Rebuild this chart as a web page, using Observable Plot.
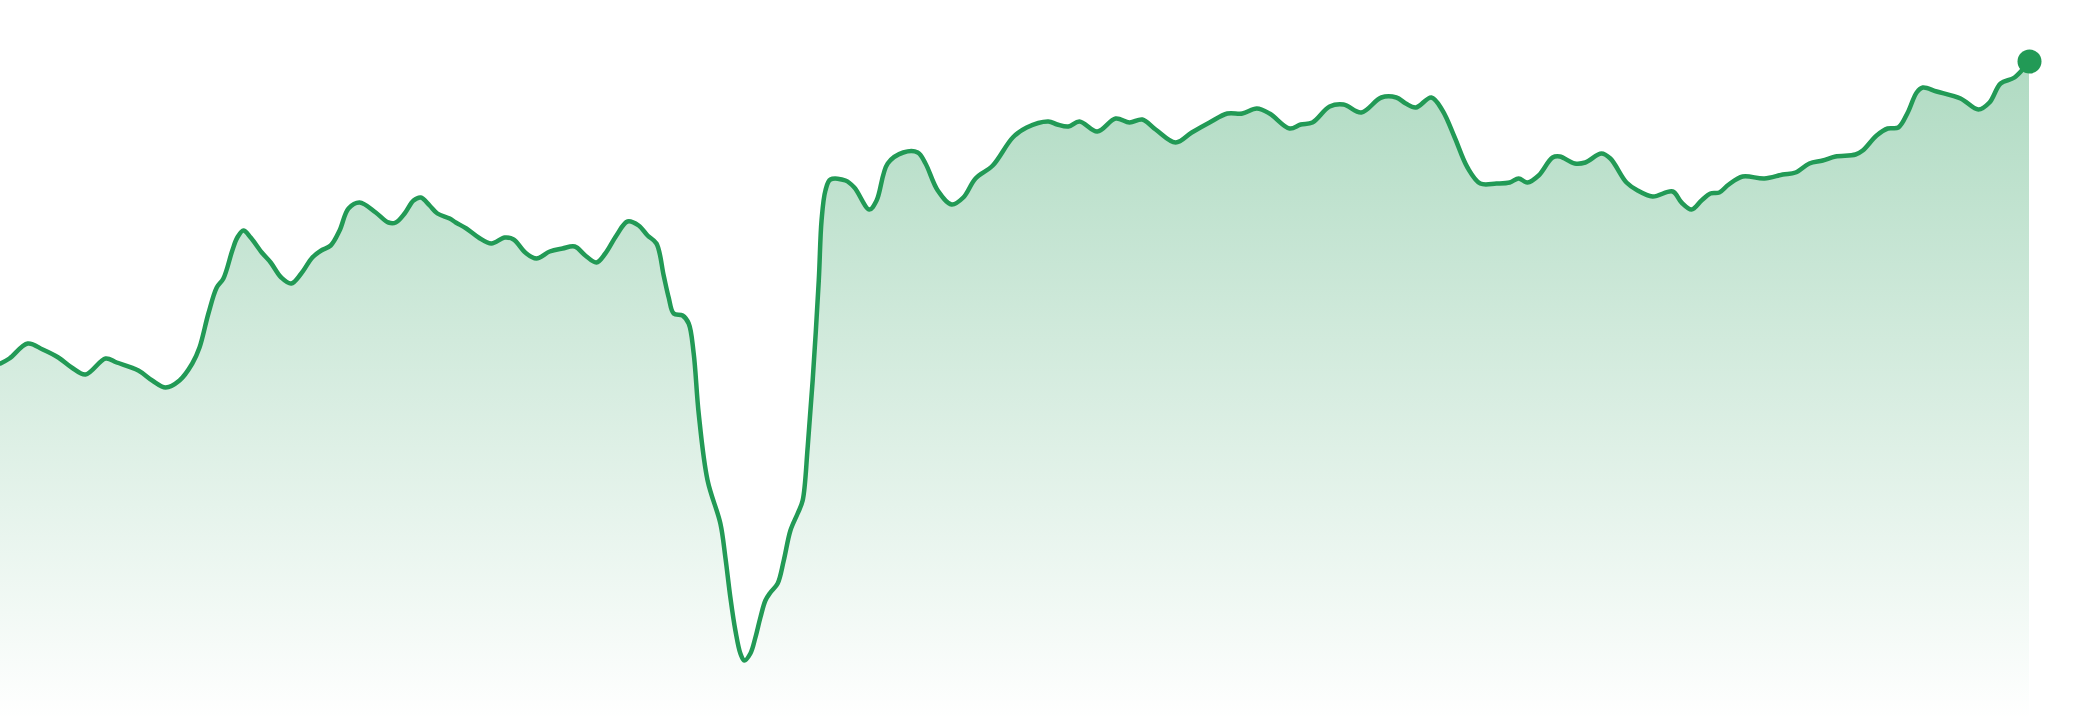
<!DOCTYPE html>
<html>
<head>
<meta charset="utf-8">
<script src="https://cdn.jsdelivr.net/npm/d3@7"></script>
<script src="https://cdn.jsdelivr.net/npm/@observablehq/plot@0.6"></script>
<style>
  html, body { margin: 0; padding: 0; background: #fff; }
  #chart svg { display: block; }
</style>
</head>
<body>
<div id="chart"></div>
<script>
// Day offsets (x)
const days = [0,1.6,4.9,7.6,10.4,12.8,15.3,18.9,20.9,24.8,27.3,29.7,32.2,34.5,35.8,37.4,38.9,40.1,41.7,42.6,43.7,45.0,47.0,48.6,50.5,52.3,54.1,56.1,57.7,59.4,61.0,62.6,64.6,67.5,69.8,71.1,72.7,74.3,75.6,77.2,78.6,80.8,81.9,83.8,86.0,88.3,90.7,92.3,94.4,96.4,98.8,101.1,103.3,105.2,107.2,108.8,110.8,112.8,114.8,116.4,118.0,
119.3,120.2,121.1,122.7,123.8,124.7,125.6,127.2,129.5,130.4,131.3,132.2,133.1,133.8,134.9,135.8,136.7,137.6,138.5,139.8,140.9,142.1,143.4,144.3,145.2,146.1,147.2,147.7,148.4,149.3,152.0,153.6,156.3,157.6,159.6,162.4,165.0,166.4,168.6,171.1,173.2,175.4,178.5,182.1,184.6,188.5,190.1,192.1,194.1,197.3,200.6,203.1,205.4,207.8,211.4,214.3,217.5,220.7,223.4,226.0,228.3,231.9,233.9,236.0,239.1,241.6,244.8,248.4,251.1,252.8,254.6,257.4,259.4,261.6,263.9,266.2,269.1,271.5,273.1,274.7,276.7,279.2,280.5,283.2,285.1,288.0,289.6,292.5,294.5,297.2,300.8,302.4,304.2,306.0,307.6,309.2,310.9,313.4,317.3,320.6,322.9,325.4,327.8,330.1,333.7,335.0,337.5,339.5,341.4,343.1,344.7,345.8,348.3,352.6,355.8,357.8,359.8,362.3,365.0];
// Values
const values = [35.7,36.2,37.7,37.1,36.3,35.3,34.6,36.2,35.8,35.0,34.0,33.3,34.0,35.7,37.3,40.7,43.3,44.2,47.0,48.3,49.0,48.3,46.8,45.8,44.3,43.7,44.7,46.3,47.0,47.5,49.0,51.2,51.8,50.8,49.8,49.8,50.7,52.0,52.3,51.5,50.7,50.2,49.8,49.2,48.3,47.7,48.3,48.1,46.8,46.2,46.9,47.2,47.4,46.5,45.8,46.7,48.5,49.9,49.5,48.5,47.7,
44.5,42.3,40.7,40.5,39.7,36.7,30.7,24.0,19.7,16.3,12.3,9.0,6.7,6.0,6.7,8.3,10.3,12.0,12.8,13.7,16.0,19.0,20.7,22.0,27.3,34.0,44.0,50.0,53.0,54.1,54.0,53.3,51.1,52.0,55.7,56.8,56.8,55.7,53.0,51.6,52.3,54.2,55.5,58.3,59.3,59.9,59.6,59.4,59.9,58.9,60.2,59.8,60.1,59.1,57.8,58.8,59.8,60.7,60.7,61.2,60.7,59.2,59.6,59.8,61.4,61.6,60.8,62.3,62.3,61.7,61.3,62.3,61.0,58.3,55.3,53.7,53.7,53.8,54.2,53.8,54.5,56.3,56.4,55.7,55.8,56.7,56.2,53.8,53.0,52.4,52.9,51.8,51.1,52.0,52.7,52.8,53.6,54.4,54.2,54.6,54.8,55.7,56.0,56.4,56.6,57.0,58.5,59.2,59.3,60.8,62.8,63.3,62.9,62.2,61.1,61.8,63.7,64.3,65.9];

const lineColor = "#229a56";
const data = days.map((d, i) => ({day: d, value: values[i]}));
const last = data[data.length - 1];

const plot = Plot.plot({
  width: 2080,
  height: 720,
  marginTop: 0,
  marginBottom: 0,
  marginLeft: 0,
  marginRight: 51,
  x: {domain: [0, 365], axis: null},
  y: {domain: [0, 72], axis: null},
  marks: [
    Plot.areaY(data, {x: "day", y: "value", fill: "url(#areaGrad)", curve: "catmull-rom"}),
    Plot.lineY(data, {x: "day", y: "value", stroke: lineColor, strokeWidth: 4.5, curve: "catmull-rom"}),
    Plot.dot([last], {x: "day", y: "value", r: 12, fill: lineColor})
  ]
});

const svg = d3.select(plot);
const defs = svg.insert("defs", ":first-child");
const grad = defs.append("linearGradient").attr("id", "areaGrad")
  .attr("x1", 0).attr("x2", 0).attr("y1", 0).attr("y2", 1);
grad.append("stop").attr("offset", "0%").attr("stop-color", lineColor).attr("stop-opacity", 0.36);
grad.append("stop").attr("offset", "100%").attr("stop-color", lineColor).attr("stop-opacity", 0);

document.getElementById("chart").append(plot);
</script>
</body>
</html>
